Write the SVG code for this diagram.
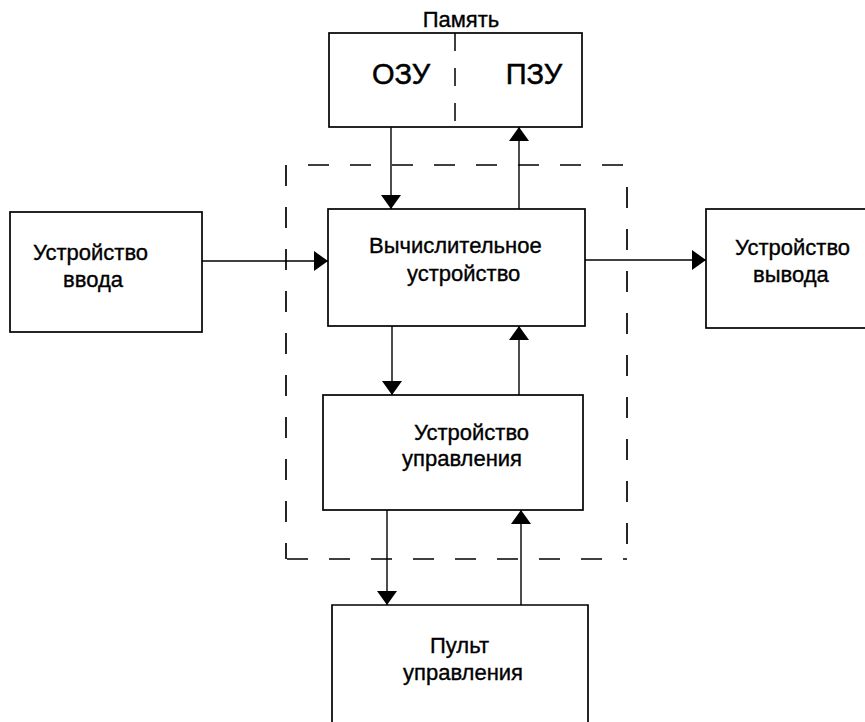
<svg xmlns="http://www.w3.org/2000/svg" width="865" height="722" viewBox="0 0 865 722">
  <style>
    .box { fill: none; stroke: #000; stroke-width: 1.7; }
    .wire { fill: none; stroke: #000; stroke-width: 1.4; }
    .dash { fill: none; stroke: #000; stroke-width: 1.7; stroke-dasharray: 21 21; }
    .lbl { font-family: "Liberation Sans", Arial, sans-serif; font-size: 22px; fill: #000; stroke: #000; stroke-width: 0.35; }
    .big { font-family: "Liberation Sans", Arial, sans-serif; font-size: 29px; fill: #000; stroke: #000; stroke-width: 0.5; }
  </style>
  <defs>
    <marker id="head" viewBox="0 0 14 20" refX="14" refY="10" markerWidth="14" markerHeight="20" markerUnits="userSpaceOnUse" orient="auto">
      <path d="M0,0 L14,10 L0,20 Z" fill="#000"/>
    </marker>
  </defs>
  <rect width="865" height="722" fill="#fff"/>

  <!-- processor boundary (dashed) -->
  <g id="processor-frame">
    <line class="dash" x1="308" y1="165" x2="627" y2="165"/>
    <line class="dash" x1="286" y1="165" x2="286" y2="559"/>
    <line class="dash" x1="287" y1="559" x2="627" y2="559"/>
    <line class="dash" x1="627" y1="187" x2="627" y2="559"/>
  </g>

  <g id="memory">
    <text class="lbl" x="461" y="27" text-anchor="middle" font-size="18.5">Память</text>
    <rect class="box" x="329" y="33" width="253" height="94"/>
    <line x1="455" y1="33" x2="455" y2="127" stroke="#000" stroke-width="1.5" stroke-dasharray="18 17"/>
    <text class="big" x="401" y="84" text-anchor="middle">ОЗУ</text>
    <text class="big" x="534" y="84" text-anchor="middle">ПЗУ</text>
  </g>

  <g id="input">
    <rect class="box" x="10" y="212" width="192" height="120"/>
    <text class="lbl" x="33" y="260">Устройство</text>
    <text class="lbl" x="63" y="287">ввода</text>
  </g>

  <g id="alu">
    <rect class="box" x="328" y="209" width="257" height="117"/>
    <text class="lbl" x="369" y="253">Вычислительное</text>
    <text class="lbl" x="407" y="281">устройство</text>
  </g>

  <g id="output">
    <rect class="box" x="706" y="209" width="180" height="119"/>
    <text class="lbl" x="735" y="255">Устройство</text>
    <text class="lbl" x="753" y="282">вывода</text>
  </g>

  <g id="control-unit">
    <rect class="box" x="323" y="395" width="260" height="115"/>
    <text class="lbl" x="414" y="440">Устройство</text>
    <text class="lbl" x="402" y="466">управления</text>
  </g>

  <g id="console">
    <path class="box" d="M332,730 L332,605 L588,605 L588,730"/>
    <text class="lbl" x="430" y="653">Пульт</text>
    <text class="lbl" x="403" y="680">управления</text>
  </g>

  <g id="connectors">
    <line class="wire" x1="391" y1="127" x2="391" y2="209" marker-end="url(#head)"/>
    <line class="wire" x1="519" y1="209" x2="519" y2="127" marker-end="url(#head)"/>
    <line class="wire" x1="202" y1="261" x2="328" y2="261" marker-end="url(#head)"/>
    <line class="wire" x1="585" y1="260" x2="706" y2="260" marker-end="url(#head)"/>
    <line class="wire" x1="392" y1="326" x2="392" y2="395" marker-end="url(#head)"/>
    <line class="wire" x1="519" y1="395" x2="519" y2="326" marker-end="url(#head)"/>
    <line class="wire" x1="387" y1="510" x2="387" y2="605" marker-end="url(#head)"/>
    <line class="wire" x1="521" y1="605" x2="521" y2="510" marker-end="url(#head)"/>
  </g>
</svg>
